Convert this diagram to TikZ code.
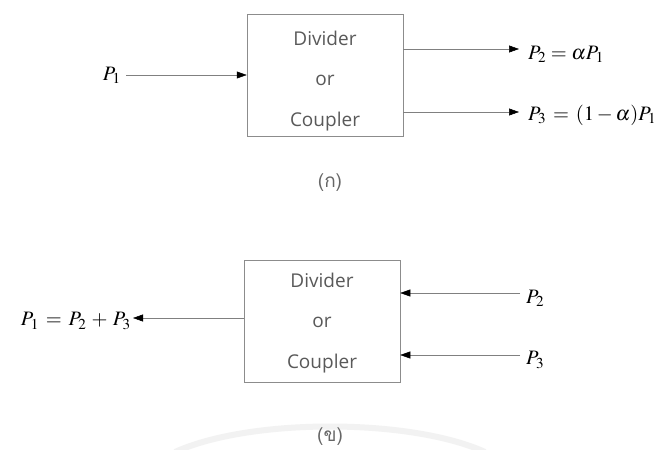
\documentclass[tikz,border=0pt]{standalone}
\usepackage{mathptmx}
\usepackage{fontspec}
\setmainfont{Open Sans}
\newfontfamily\thaifont[Script=Thai]{Loma}
\usetikzlibrary{arrows.meta}

\tikzset{
  blockbox/.style={draw=black!45, line width=0.5pt, minimum width=156pt, minimum height=122pt, inner sep=0pt},
  blocktext/.style={align=center, text=black!65, font=\fontsize{19}{40.5}\selectfont, inner sep=0pt},
  conn/.style={draw=black!50, line width=0.5pt, -{Triangle[length=10pt,width=7pt,color=black,fill=black]}},
  eqlabel/.style={inner sep=0pt, font=\fontsize{20.5}{24}\selectfont},
  caption/.style={text=black!60, font=\thaifont\fontsize{19}{22}\selectfont, inner sep=0pt}
}

\begin{document}
\begin{tikzpicture}[x=1pt,y=-1pt]
  \useasboundingbox (0,0) rectangle (667,450);
  \fill[white] (0,0) rectangle (667,450);

  % faint arc along the lower edge
  \draw[black!5, line width=6pt] (175,452) .. controls (250,418) and (410,418) .. (485,452);

  % ---- (a) splitting ----
  \node[blockbox] (box1) at (325,75.5) {};
  \node[blocktext] (txt1) at (325,81) {Divider\\or\\Coupler};

  \node[eqlabel, anchor=east] (p1) at (121,75) {$P_1$};
  \coordinate (p1s) at (126,75);
  \draw[conn] (p1s) -- (box1.west |- p1s);

  \coordinate (o2) at (519,49);
  \coordinate (o3) at (519,112);
  \draw[conn] (box1.east |- o2) -- (o2);
  \draw[conn] (box1.east |- o3) -- (o3);
  \node[eqlabel, anchor=west] (p2) at (528,54) {$P_2=\alpha P_1$};
  \node[eqlabel, anchor=west] (p3) at (528,115) {$P_3\,=\,(1-\alpha)P_1$};

  \node[caption] (capa) at (330,183) {(ก)};

  % ---- (b) combining ----
  \node[blockbox] (box2) at (322,321.5) {};
  \node[blocktext] (txt2) at (322,323) {Divider\\or\\Coupler};

  \coordinate (i2) at (520,293);
  \coordinate (i3) at (520,355);
  \draw[conn] (i2) -- (box2.east |- i2);
  \draw[conn] (i3) -- (box2.east |- i3);
  \node[eqlabel, anchor=west] (q2) at (526,298) {$P_2$};
  \node[eqlabel, anchor=west] (q3) at (526,360) {$P_3$};

  \coordinate (o1) at (133,318);
  \draw[conn] (box2.west |- o1) -- (o1);
  \node[eqlabel, anchor=east] (q1) at (131,321) {$P_1\,=\,P_2\,+\,P_3$};

  \node[caption] (capb) at (330,437) {(ข)};
\end{tikzpicture}
\end{document}
